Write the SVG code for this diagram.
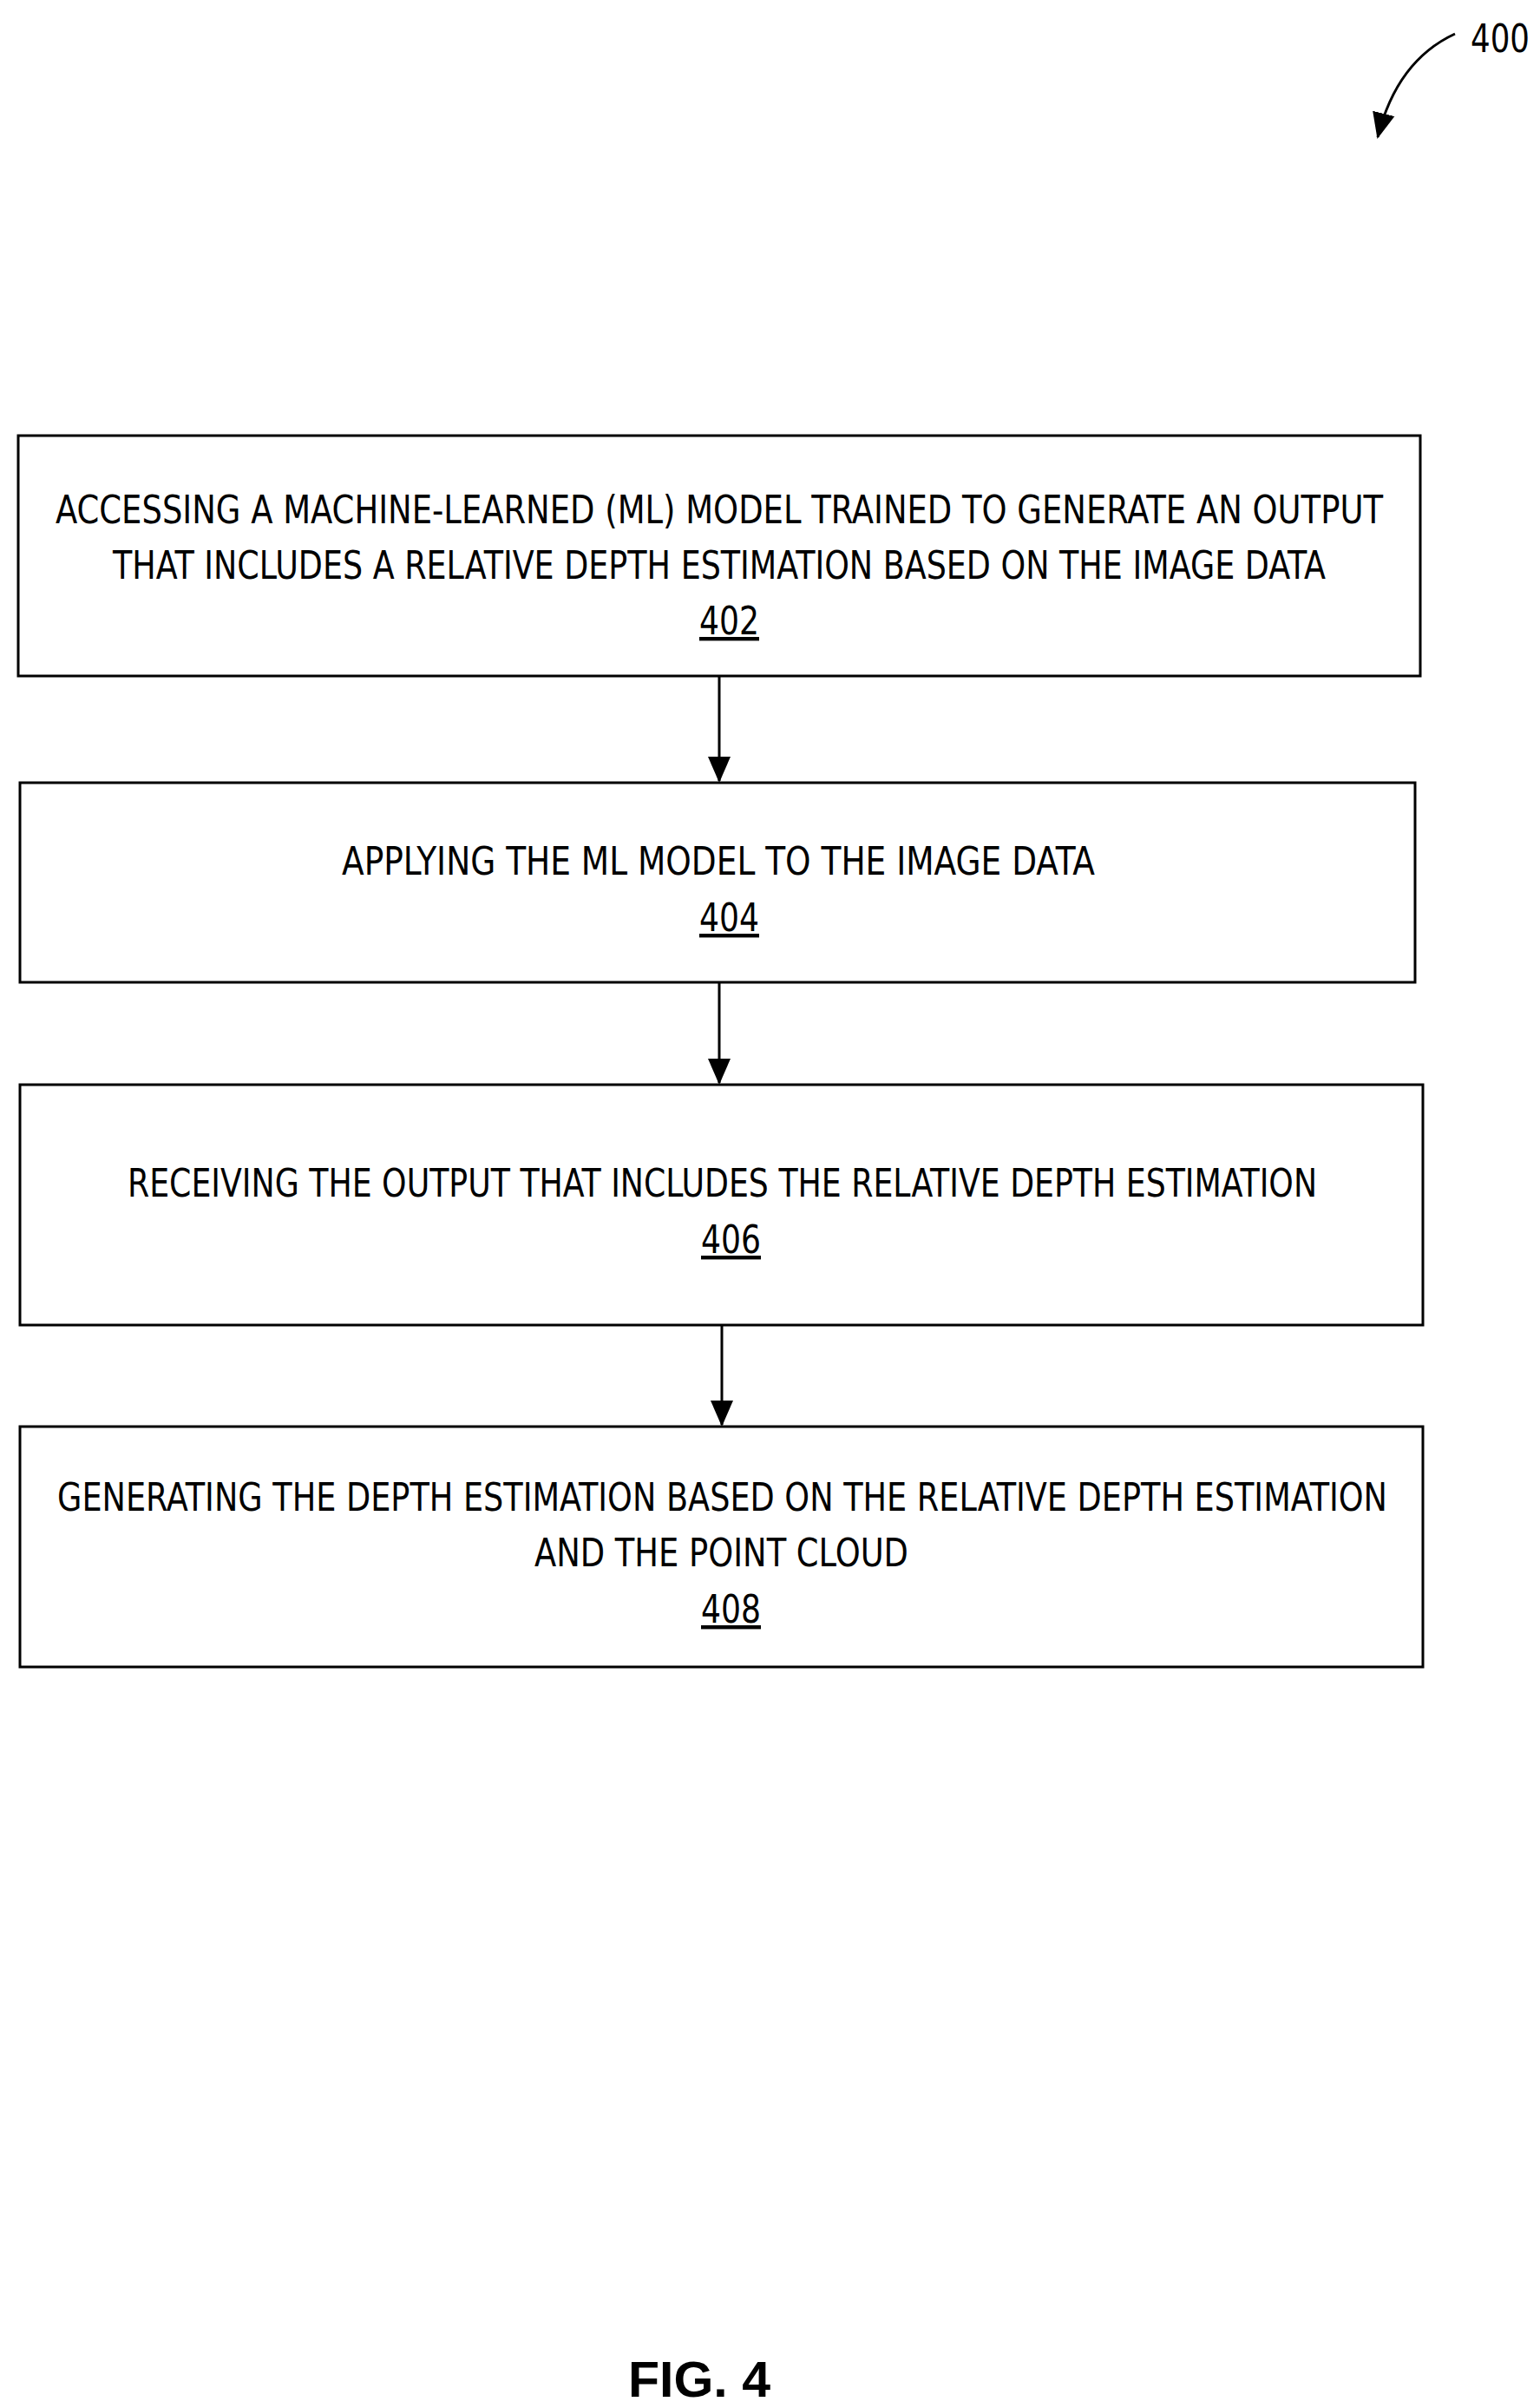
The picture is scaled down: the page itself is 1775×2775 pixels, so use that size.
<svg xmlns="http://www.w3.org/2000/svg" width="1775" height="2775" viewBox="0 0 1775 2775">
<style>
.box{fill:#fff;stroke:#000;stroke-width:3}
.t{font-family:"DejaVu Sans Condensed","Liberation Sans",sans-serif;font-size:44px;fill:#000}
.n{text-decoration:underline}
.c{stroke:#000;stroke-width:3;fill:none}
</style>
<defs><marker id="ah" markerWidth="10" markerHeight="10" refX="9" refY="5" orient="auto" markerUnits="userSpaceOnUse" viewBox="0 0 10 10"><path d="M0,0L10,5L0,10z"/></marker>
<marker id="a2" markerWidth="30" markerHeight="30" refX="28" refY="15" orient="auto" markerUnits="userSpaceOnUse" viewBox="0 0 30 30"><path d="M0,2L30,15L0,28z"/></marker></defs>
<rect width="1775" height="2775" fill="#fff"/>
<g id="ref400"><text class="t" x="1695" y="60" textLength="68" lengthAdjust="spacingAndGlyphs">400</text><path class="c" d="M1677,39 Q1610,70 1588,158" marker-end="url(#a2)"/></g>
<g id="n402"><rect class="box" x="21" y="502" width="1616" height="277"/>
<text class="t" x="64" y="603" textLength="1530" lengthAdjust="spacingAndGlyphs">ACCESSING A MACHINE-LEARNED (ML) MODEL TRAINED TO GENERATE AN OUTPUT</text>
<text class="t" x="130" y="667" textLength="1398" lengthAdjust="spacingAndGlyphs">THAT INCLUDES A RELATIVE DEPTH ESTIMATION BASED ON THE IMAGE DATA</text>
<text class="t n" x="806" y="731" textLength="69" lengthAdjust="spacingAndGlyphs">402</text></g>
<g id="n404"><rect class="box" x="23" y="902" width="1608" height="230"/>
<text class="t" x="394" y="1008" textLength="868" lengthAdjust="spacingAndGlyphs">APPLYING THE ML MODEL TO THE IMAGE DATA</text>
<text class="t n" x="806" y="1073" textLength="69" lengthAdjust="spacingAndGlyphs">404</text></g>
<g id="n406"><rect class="box" x="23" y="1250" width="1617" height="277"/>
<text class="t" x="147" y="1379" textLength="1371" lengthAdjust="spacingAndGlyphs">RECEIVING THE OUTPUT THAT INCLUDES THE RELATIVE DEPTH ESTIMATION</text>
<text class="t n" x="808" y="1444" textLength="69" lengthAdjust="spacingAndGlyphs">406</text></g>
<g id="n408"><rect class="box" x="23" y="1644" width="1617" height="277"/>
<text class="t" x="66" y="1741" textLength="1533" lengthAdjust="spacingAndGlyphs">GENERATING THE DEPTH ESTIMATION BASED ON THE RELATIVE DEPTH ESTIMATION</text>
<text class="t" x="616" y="1805" textLength="431" lengthAdjust="spacingAndGlyphs">AND THE POINT CLOUD</text>
<text class="t n" x="808" y="1870" textLength="69" lengthAdjust="spacingAndGlyphs">408</text></g>
<g id="connectors">
<line class="c" x1="829" y1="779" x2="829" y2="900" marker-end="url(#a2)"/>
<line class="c" x1="829" y1="1132" x2="829" y2="1248" marker-end="url(#a2)"/>
<line class="c" x1="832" y1="1527" x2="832" y2="1642" marker-end="url(#a2)"/>
</g>
<text x="724" y="2762" font-family="Liberation Sans,sans-serif" font-weight="bold" font-size="58" textLength="164" lengthAdjust="spacingAndGlyphs">FIG. 4</text>
</svg>
